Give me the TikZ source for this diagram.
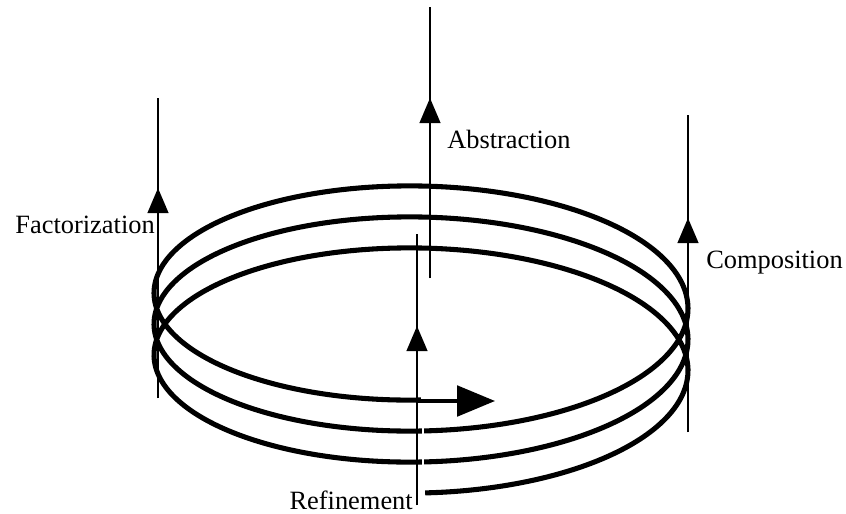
\documentclass[tikz,border=0pt]{standalone}
\usepackage{fontspec}
\setmainfont{Liberation Serif}
\usetikzlibrary{arrows.meta}
\begin{document}
\begin{tikzpicture}[x=0.75pt,y=-0.75pt,
  loopline/.style={line width=3.8pt},
  axisline/.style={line width=1.65pt},
  uphead/.style={line width=1.65pt,-{Triangle[length=18.75pt,width=15.5pt]}},
  righthead/.style={line width=2.5pt,-{Triangle[length=28.5pt,width=23pt]}},
  lbl/.style={font=\fontsize{19.8}{24}\selectfont, inner sep=0pt}]
\useasboundingbox (0,0) rectangle (846,514);
% spiral
\draw[loopline] plot[domain=0.9:1080, samples=361, smooth, variable=\t]
  ({421+267*sin(\t)},{378.25+114.75*cos(\t)-(\t/360)*31});
% gaps right of refinement line
\draw[white, line width=2pt] (423,427) -- (423,469);
% coordinates
\coordinate (facB) at (158,398);
\coordinate (facT) at (158,98);
\coordinate (facH) at (158,188);
\coordinate (absB) at (430,278);
\coordinate (absT) at (430,7);
\coordinate (absH) at (430,98);
\coordinate (comB) at (688,432);
\coordinate (comT) at (688,115);
\coordinate (comH) at (688,218);
\coordinate (refB) at (417,505);
\coordinate (refT) at (417,234);
\coordinate (refH) at (417,326);
\coordinate (hS) at (417,401);
\coordinate (hT) at (495,401);
% vertical lines
\draw[axisline] (facB) -- (facT);
\draw[uphead] (facB) -- (facH);
\draw[axisline] (absB) -- (absT);
\draw[uphead] (absB) -- (absH);
\draw[axisline] (comB) -- (comT);
\draw[uphead] (comB) -- (comH);
\draw[axisline] (refB) -- (refT);
\draw[uphead] (refB) -- (refH);
% horizontal arrow
\draw[righthead] (hS) -- (hT);
% labels
\node[lbl, anchor=base east] (fac) at (155,233) {Factorization};
\node[lbl, anchor=base west] (abs) at (447,148) {Abstraction};
\node[lbl, anchor=base west] (com) at (706,268) {Composition};
\node[lbl, anchor=base east] (ref) at (413,509) {Refinement};
\end{tikzpicture}
\end{document}
